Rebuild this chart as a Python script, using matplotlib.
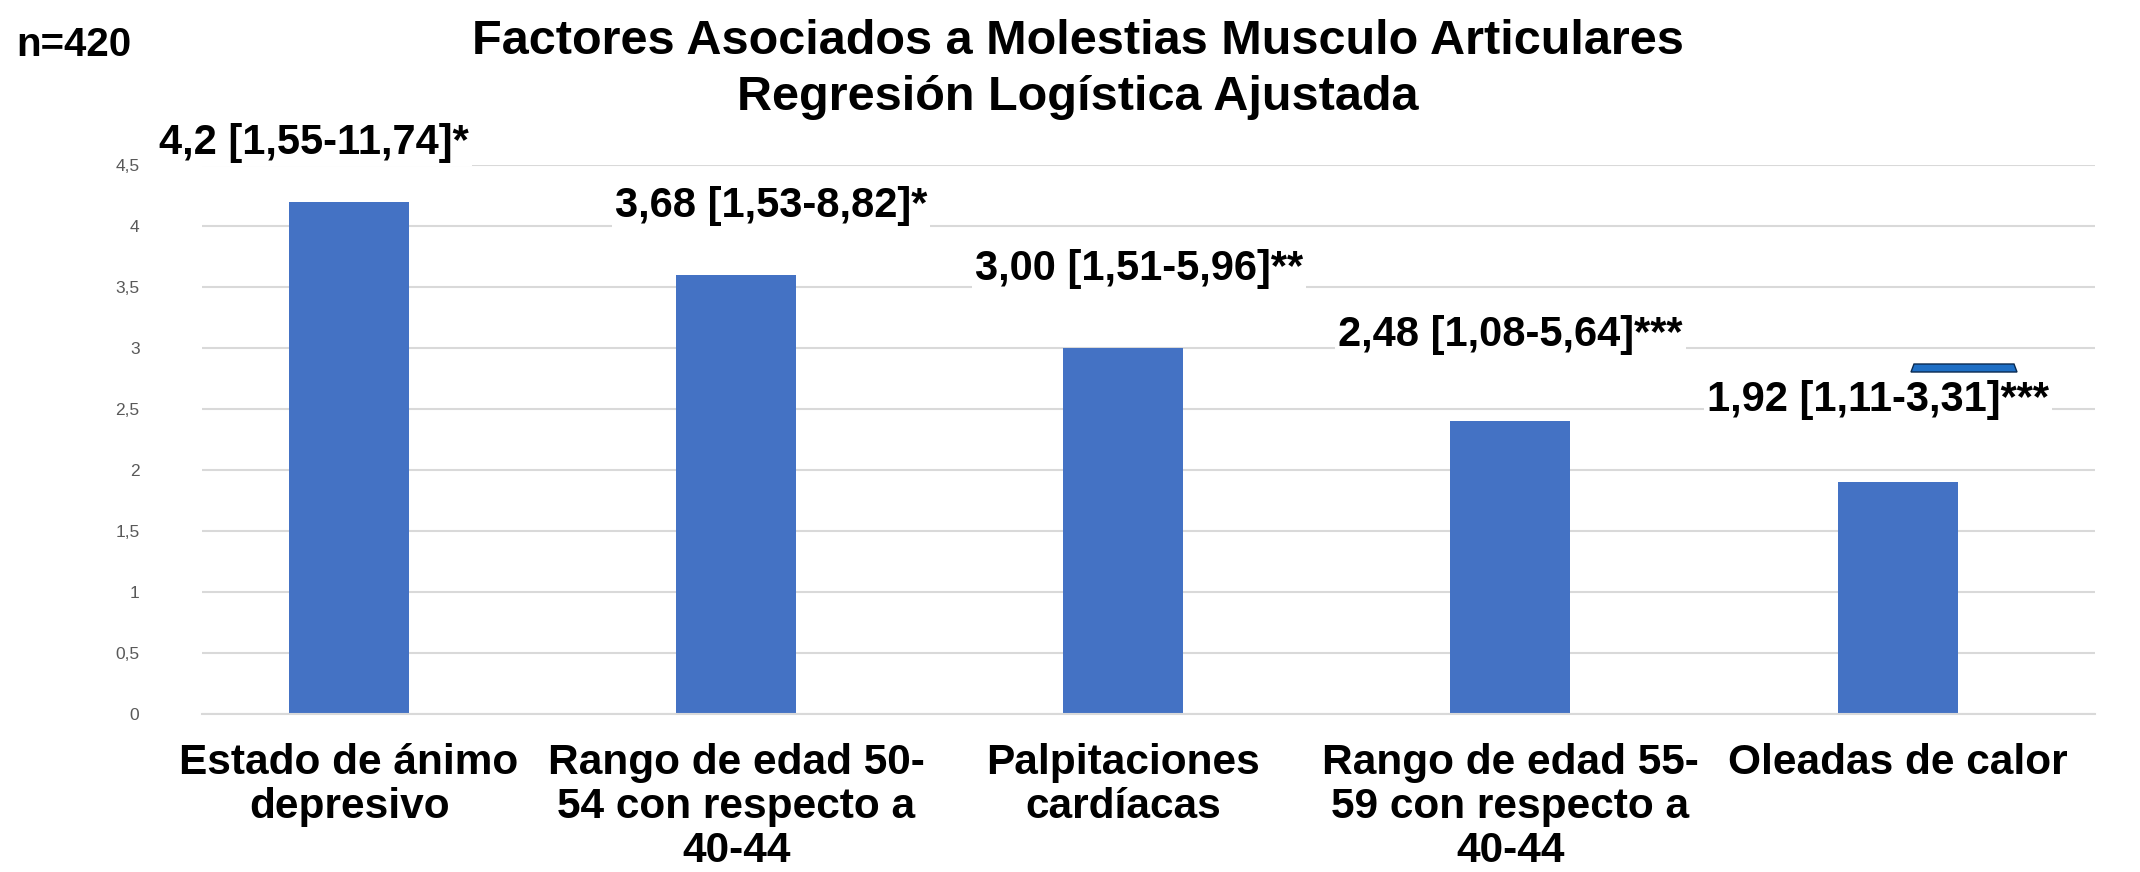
import matplotlib
matplotlib.use("Agg")
import matplotlib.pyplot as plt
from matplotlib.patches import Polygon
from matplotlib import font_manager

categories = ["Estado de ánimo\ndepresivo",
              "Rango de edad 50-\n54 con respecto a\n40-44",
              "Palpitaciones\ncardíacas",
              "Rango de edad 55-\n59 con respecto a\n40-44",
              "Oleadas de calor"]
values = [4.2, 3.6, 3.0, 2.4, 1.9]
labels = ["4,2 [1,55-11,74]*", "3,68 [1,53-8,82]*", "3,00 [1,51-5,96]**",
          "2,48 [1,08-5,64]***", "1,92 [1,11-3,31]***"]
yticks = [0, 0.5, 1, 1.5, 2, 2.5, 3, 3.5, 4, 4.5]
ytick_labels = ["0", "0,5", "1", "1,5", "2", "2,5", "3", "3,5", "4", "4,5"]

# layout of value labels (offset from bar centre, height in data units)
label_dx = [-0.09, 0.09, 0.04, 0.0, -0.05]
label_y = [4.68, 4.16, 3.65, 3.11, 2.57]

avail = {f.name for f in font_manager.fontManager.ttflist}
narrow = "Liberation Sans Narrow" if "Liberation Sans Narrow" in avail else "Liberation Sans"
fam = [narrow, "DejaVu Sans"]

W, H = 2140, 872
fig = plt.figure(figsize=(W / 100, H / 100), dpi=100)
ax = fig.add_axes([202 / W, 1 - 714 / H, (2095 - 202) / W, (714 - 165) / H])

x = list(range(len(values)))
ax.bar(x, values, width=0.31, color="#4472C4", zorder=2)
ax.set_xlim(-0.38, 4.51)
ax.set_ylim(0, 4.5)
ax.set_yticks(yticks)
ax.set_yticklabels(ytick_labels, color="#595959", fontsize=12.5, family=["Liberation Sans", "DejaVu Sans"])
ax.yaxis.grid(True, color="#D9D9D9", linewidth=1.5, zorder=0)
ax.set_axisbelow(True)
for s in ["top", "right", "left"]:
    ax.spines[s].set_visible(False)
ax.spines["bottom"].set_color("#D9D9D9")
ax.spines["bottom"].set_linewidth(1.5)
ax.tick_params(axis="y", length=0, pad=45)
ax.tick_params(axis="x", length=0, pad=21)
ax.set_xticks(x)
ax.set_xticklabels(categories, fontsize=30.5, fontweight="bold", family=fam,
                   linespacing=1.12, va="top")

for xi, lab, dx, ly in zip(x, labels, label_dx, label_y):
    ax.text(xi + dx, ly, lab, ha="center", va="center", fontsize=30,
            fontweight="bold", family=fam, clip_on=False, zorder=5,
            bbox=dict(facecolor="white", edgecolor="none", pad=2))

fig.text(1078 / W, 1 - 41 / H, "Factores Asociados a Molestias Musculo Articulares",
         ha="center", va="center", fontsize=35, fontweight="bold", family=fam)
fig.text(1078 / W, 1 - 98 / H, "Regresión Logística Ajustada",
         ha="center", va="center", fontsize=35, fontweight="bold", family=fam)
fig.text(16 / W, 1 - 45 / H, "n=420", ha="left", va="center", fontsize=29,
         fontweight="bold", family=fam)

# small blue artifact above the last label
poly = Polygon([[1911 / W, 1 - 372 / H], [2017 / W, 1 - 372 / H],
                [2014 / W, 1 - 364 / H], [1914 / W, 1 - 364 / H]],
               closed=True, transform=fig.transFigure, facecolor="#1F6FC5",
               edgecolor="#0A2A50", linewidth=1)
fig.add_artist(poly)

fig.savefig("out.png", dpi=100)
